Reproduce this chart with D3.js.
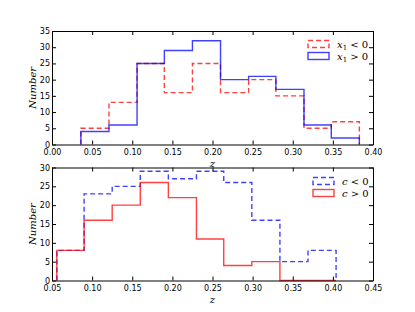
<!DOCTYPE html>
<html>
<head>
<meta charset="utf-8">
<script src="https://cdn.jsdelivr.net/npm/d3@7"></script>
<style>
  body { margin: 0; background: #fff; }
  svg text { font-family: "DejaVu Sans", sans-serif; }
</style>
</head>
<body>
<svg id="chart" width="415" height="312"></svg>
<script>
// top panel: split on x1
var top_edges = [0.036, 0.071, 0.106, 0.140, 0.175, 0.210, 0.245, 0.279, 0.314, 0.348, 0.383]
var top_neg = [5, 13, 25, 16, 25, 16, 20, 15, 5, 7]
var top_pos = [4, 6, 25, 29, 32, 20, 21, 17, 6, 2]
var top_xticks = [0.00, 0.05, 0.10, 0.15, 0.20, 0.25, 0.30, 0.35, 0.40]
var top_yticks = [0, 5, 10, 15, 20, 25, 30, 35]

// bottom panel: split on c
var bot_edges = [0.056, 0.090, 0.125, 0.160, 0.195, 0.230, 0.264, 0.299, 0.334, 0.369, 0.404]
var bot_neg = [8, 23, 25, 29, 27, 29, 26, 16, 5, 8]
var bot_pos = [8, 16, 20, 26, 22, 11, 4, 5, 0, 0]
var bot_xticks = [0.05, 0.10, 0.15, 0.20, 0.25, 0.30, 0.35, 0.40, 0.45]
var bot_yticks = [0, 5, 10, 15, 20, 25, 30]

var svg = d3.select('#chart')

var left = 52, right = 373

function stepPoints(edges, vals) {
    var pts = [[edges[0], 0]]
    vals.forEach(function(v, i) {
        pts.push([edges[i], v])
        pts.push([edges[i + 1], v])
    })
    pts.push([edges[edges.length - 1], 0])
    return pts
}

function panel(opt) {
    var x = d3.scaleLinear().domain(opt.xdom).range([left, right])
    var y = d3.scaleLinear().domain(opt.ydom).range([opt.bottom, opt.top])
    var g = svg.append('g')

    // x label first so the lower panel can cover it
    g.append('text')
        .attr('x', (left + right) / 2)
        .attr('y', opt.bottom + 22)
        .attr('text-anchor', 'middle')
        .style('font-family', '"DejaVu Serif", serif')
        .style('font-style', 'italic')
        .style('font-size', '10px')
        .text('z')

    g.append('rect')
        .attr('x', left).attr('y', opt.top)
        .attr('width', right - left).attr('height', opt.bottom - opt.top)
        .attr('fill', 'white')

    var line = d3.line()
        .x(function(d) { return x(d[0]) })
        .y(function(d) { return y(d[1]) })

    opt.series.forEach(function(s) {
        g.append('path')
            .attr('d', line(stepPoints(opt.edges, s.vals)))
            .attr('fill', 'none')
            .attr('stroke', s.color)
            .attr('stroke-opacity', 0.75)
            .attr('stroke-width', 1.4)
            .attr('stroke-dasharray', s.dash ? '5,3' : null)
    })

    // axes with inward ticks on all sides
    var ax = [
        d3.axisBottom(x).tickValues(opt.xticks).tickFormat(d3.format('.2f')).tickSizeInner(-4).tickSizeOuter(0).tickPadding(5),
        d3.axisTop(x).tickValues(opt.xticks).tickFormat('').tickSizeInner(-4).tickSizeOuter(0),
        d3.axisLeft(y).tickValues(opt.yticks).tickFormat(d3.format('d')).tickSizeInner(-4).tickSizeOuter(0).tickPadding(2),
        d3.axisRight(y).tickValues(opt.yticks).tickFormat('').tickSizeInner(-4).tickSizeOuter(0)
    ]
    var tr = ['translate(0,' + opt.bottom + ')', 'translate(0,' + opt.top + ')',
              'translate(' + left + ',0)', 'translate(' + right + ',0)']
    ax.forEach(function(a, i) {
        var ag = g.append('g').attr('transform', tr[i]).call(a)
        ag.selectAll('text').style('font-size', '8px').attr('fill', 'black')
        ag.selectAll('line').attr('stroke', 'black')
        ag.select('.domain').attr('stroke', 'black')
    })

    g.append('text')
        .attr('transform', 'translate(36,' + (opt.top + opt.bottom) / 2 + ') rotate(-90)')
        .attr('text-anchor', 'middle')
        .style('font-family', '"DejaVu Serif", serif')
        .style('font-style', 'italic')
        .style('font-size', '10px')
        .text('Number')

    // legend
    opt.series.slice().sort(function(a, b) { return a.order - b.order }).forEach(function(s, i) {
        var ly = opt.legY + i * 12
        g.append('rect')
            .attr('x', opt.legX).attr('y', ly - 3.5)
            .attr('width', 21).attr('height', 7)
            .attr('fill', 'none')
            .attr('stroke', s.color)
            .attr('stroke-opacity', 0.75)
            .attr('stroke-width', 1.4)
            .attr('stroke-dasharray', s.dash ? '5,3' : null)
        var t = g.append('text')
            .attr('x', opt.legX + 29).attr('y', ly + 3.5)
            .style('font-family', '"DejaVu Serif", serif')
            .style('font-size', '10px')
        t.append('tspan').style('font-style', 'italic').text(s.sym)
        if (s.sub) t.append('tspan').attr('dy', 2).style('font-size', '7px').text(s.sub)
        t.append('tspan').attr('dy', s.sub ? -2 : 0).text(s.rel)
    })
}

panel({
    top: 31, bottom: 144.5,
    xdom: [0, 0.40], ydom: [0, 35],
    edges: top_edges, xticks: top_xticks, yticks: top_yticks,
    legX: 308, legY: 44,
    series: [
        {vals: top_neg, color: 'red', dash: true, sym: 'x', sub: '1', rel: ' < 0', order: 0},
        {vals: top_pos, color: 'blue', dash: false, sym: 'x', sub: '1', rel: ' > 0', order: 1}
    ]
})

panel({
    top: 167.5, bottom: 280.5,
    xdom: [0.05, 0.45], ydom: [0, 30],
    edges: bot_edges, xticks: bot_xticks, yticks: bot_yticks,
    legX: 313, legY: 181,
    series: [
        {vals: bot_neg, color: 'blue', dash: true, sym: 'c', sub: null, rel: ' < 0', order: 0},
        {vals: bot_pos, color: 'red', dash: false, sym: 'c', sub: null, rel: ' > 0', order: 1}
    ]
})
</script>
</body>
</html>
